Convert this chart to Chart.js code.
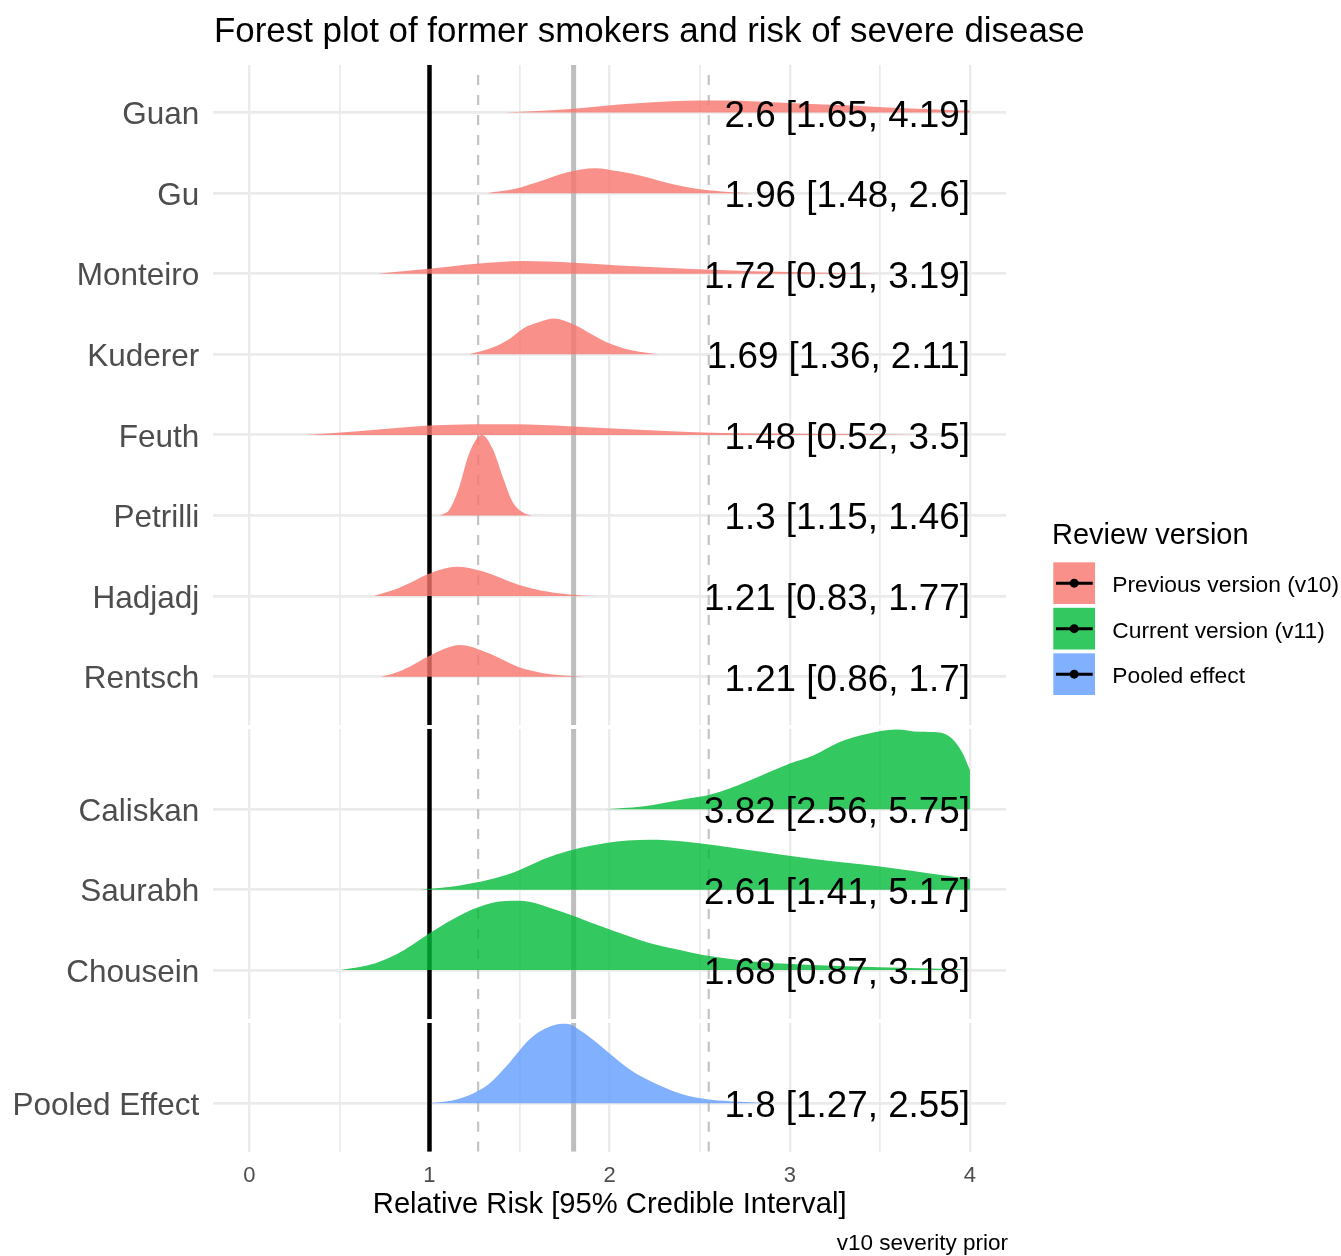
<!DOCTYPE html>
<html>
<head>
<meta charset="utf-8">
<title>Forest plot of former smokers and risk of severe disease</title>
<script src="https://cdn.jsdelivr.net/npm/chart.js@4.4.1/dist/chart.umd.min.js"></script>
<style>
  html, body { margin: 0; padding: 0; background: #fff; width: 1341px; height: 1256px; overflow: hidden; }
  canvas { position: absolute; left: 0; }
</style>
</head>
<body>
<canvas id="panelPrev" width="1341" height="727" style="top:0px"></canvas>
<canvas id="panelCurr" width="1341" height="291" style="top:729px"></canvas>
<canvas id="panelPool" width="1341" height="233" style="top:1023px"></canvas>
<script>
// studies per facet, top to bottom
const prevStudies = ['Guan', 'Gu', 'Monteiro', 'Kuderer', 'Feuth', 'Petrilli', 'Hadjadj', 'Rentsch'];
const prevMean = [2.6, 1.96, 1.72, 1.69, 1.48, 1.3, 1.21, 1.21];
const prevLower = [1.65, 1.48, 0.91, 1.36, 0.52, 1.15, 0.83, 0.86];
const prevUpper = [4.19, 2.6, 3.19, 2.11, 3.5, 1.46, 1.77, 1.7];

const currStudies = ['Caliskan', 'Saurabh', 'Chousein'];
const currMean = [3.82, 2.61, 1.68];
const currLower = [2.56, 1.41, 0.87];
const currUpper = [5.75, 5.17, 3.18];

const poolStudies = ['Pooled Effect'];
const poolMean = [1.8];
const poolLower = [1.27];
const poolUpper = [2.55];

const nullEffect = 1;

// ridge outlines: [relative risk, ridge height in rows]
const guanDens = [[1.42,0],[1.6,0.02],[1.76,0.04],[2.05,0.10],[2.34,0.14],[2.5,0.15],[2.63,0.15],[3.0,0.12],[3.31,0.09],[3.57,0.06],[3.92,0.03],[4.0,0.025]];
const guDens = [[1.32,0],[1.47,0.05],[1.61,0.145],[1.76,0.257],[1.92,0.31],[2.05,0.27],[2.19,0.207],[2.34,0.116],[2.48,0.053],[2.62,0.021],[2.79,0]];
const monteiroDens = [[0.71,0],[0.85,0.03],[1.0,0.062],[1.26,0.124],[1.52,0.158],[1.8,0.137],[2.05,0.103],[2.34,0.071],[2.57,0.05],[2.8,0.031],[3.2,0.012],[3.5,0]];
const kudererDens = [[1.22,0],[1.35,0.083],[1.45,0.2],[1.52,0.32],[1.61,0.40],[1.69,0.443],[1.8,0.37],[1.9,0.25],[1.98,0.153],[2.12,0.05],[2.27,0]];
const feuthDens = [[0.31,0],[0.6,0.046],[1.0,0.116],[1.25,0.133],[1.48,0.133],[1.77,0.108],[2.05,0.075],[2.34,0.046],[2.62,0.025],[3.0,0.015],[3.4,0.007],[3.7,0]];
const petrilliDens = [[1.055,0],[1.08,0.02],[1.11,0.071],[1.16,0.319],[1.22,0.77],[1.29,1.0],[1.35,0.832],[1.41,0.46],[1.46,0.174],[1.52,0.037],[1.57,0]];
const hadjadjDens = [[0.69,0],[0.82,0.091],[0.9,0.17],[0.99,0.27],[1.15,0.364],[1.29,0.31],[1.49,0.145],[1.66,0.053],[1.78,0.02],[1.92,0]];
const rentschDens = [[0.73,0],[0.8,0.04],[0.89,0.124],[0.99,0.248],[1.17,0.394],[1.33,0.29],[1.49,0.124],[1.66,0.034],[1.86,0]];

const caliskanDens = [[1.97,0],[2.18,0.034],[2.39,0.116],[2.57,0.19],[2.76,0.344],[3.0,0.571],[3.13,0.671],[3.28,0.841],[3.42,0.935],[3.59,0.994],[3.72,0.965],[3.83,0.957],[3.9,0.882],[3.96,0.696],[4.0,0.488]];
const saurabhDens = [[0.95,0],[1.16,0.05],[1.43,0.186],[1.7,0.435],[1.98,0.58],[2.22,0.621],[2.41,0.6],[2.76,0.497],[3.13,0.381],[3.5,0.289],[3.87,0.174],[4.0,0.137]];
const chouseinDens = [[0.51,0],[0.7,0.083],[0.86,0.248],[1.0,0.456],[1.19,0.704],[1.35,0.836],[1.5,0.861],[1.68,0.766],[1.96,0.538],[2.23,0.33],[2.39,0.25],[2.51,0.19],[2.6,0.16],[2.85,0.095],[3.13,0.062],[3.5,0.034],[3.95,0.009]];

const pooledDens = [[1.0,0],[1.16,0.053],[1.33,0.24],[1.43,0.468],[1.57,0.82],[1.71,0.978],[1.76,0.985],[1.85,0.882],[1.98,0.655],[2.12,0.406],[2.26,0.24],[2.4,0.116],[2.53,0.053],[2.67,0.025],[2.89,0]];

const xGrid = [0, 0.5, 1, 1.5, 2, 2.5, 3, 3.5, 4];
const legendLabels = ['Previous version (v10)', 'Current version (v11)', 'Pooled effect'];
const versionColors = ['rgba(248,118,109,0.8)', 'rgba(0,186,56,0.8)', 'rgba(97,156,255,0.8)'];

const FONT = '"Liberation Sans", Arial, sans-serif';
Chart.defaults.font.family = FONT;

// right-aligned estimate text on each row
const estimateLabels = {
  id: 'estimateLabels',
  afterDatasetsDraw(chart, args, opts) {
    const ctx = chart.ctx;
    const xs = chart.scales.x, ys = chart.scales.y;
    const n = opts.mean.length;
    ctx.save();
    ctx.font = '36.8px ' + FONT;
    ctx.fillStyle = '#000';
    ctx.textAlign = 'right';
    ctx.textBaseline = 'alphabetic';
    for (let i = 0; i < n; i++) {
      const txt = opts.mean[i] + ' [' + opts.lower[i] + ', ' + opts.upper[i] + ']';
      ctx.fillText(txt, xs.getPixelForValue(4), ys.getPixelForValue(n - i) + 14);
    }
    ctx.restore();
  }
};

// title + legend, drawn on the top panel
const headerAndLegend = {
  id: 'headerAndLegend',
  afterDraw(chart) {
    const ctx = chart.ctx;
    ctx.save();
    ctx.fillStyle = '#000';
    ctx.textAlign = 'left';
    ctx.textBaseline = 'alphabetic';
    ctx.font = '34.9px ' + FONT;
    ctx.fillText('Forest plot of former smokers and risk of severe disease', 214, 42.3);

    ctx.font = '29px ' + FONT;
    ctx.fillText('Review version', 1052, 544);
    legendLabels.forEach((lab, i) => {
      const top = 562.3 + i * 45.5;
      const cy = top + 20.85;
      ctx.fillStyle = versionColors[i];
      ctx.fillRect(1053.3, top, 41.7, 41.7);
      ctx.strokeStyle = '#000';
      ctx.lineWidth = 3;
      ctx.beginPath();
      ctx.moveTo(1056, cy);
      ctx.lineTo(1092.7, cy);
      ctx.stroke();
      ctx.fillStyle = '#000';
      ctx.beginPath();
      ctx.arc(1074.2, cy, 4.5, 0, Math.PI * 2);
      ctx.fill();
      ctx.font = '22.8px ' + FONT;
      ctx.fillText(lab, 1112.3, cy + 9);
    });
    ctx.restore();
  }
};

const captionPlugin = {
  id: 'caption',
  afterDraw(chart) {
    const ctx = chart.ctx;
    ctx.save();
    ctx.fillStyle = '#000';
    ctx.font = '22.5px ' + FONT;
    ctx.textAlign = 'right';
    ctx.textBaseline = 'alphabetic';
    ctx.fillText('v10 severity prior', 1008, 227);
    ctx.restore();
  }
};

function refLine(value, yMin, yMax, color, width, dash) {
  return {
    data: [{x: value, y: yMin}, {x: value, y: yMax}],
    borderColor: color,
    borderWidth: width,
    borderDash: dash,
    pointRadius: 0,
    fill: false,
    order: 2
  };
}

function makePanel(id, cfg) {
  const n = cfg.studies.length;
  const datasets = [
    refLine(nullEffect, cfg.yMin, cfg.yMax, '#000', 4.5, []),
    refLine(poolMean[0], cfg.yMin, cfg.yMax, '#BEBEBE', 5, []),
    refLine(poolLower[0], cfg.yMin, cfg.yMax, '#C4C4C4', 2.2, [10, 10]),
    refLine(poolUpper[0], cfg.yMin, cfg.yMax, '#C4C4C4', 2.2, [10, 10])
  ];
  for (let i = n - 1; i >= 0; i--) {
    const pos = n - i;
    datasets.push({
      label: cfg.studies[i],
      data: cfg.dens[i].map(p => ({x: p[0], y: pos + p[1]})),
      fill: {value: pos},
      backgroundColor: cfg.color,
      borderColor: 'rgba(0,0,0,0)',
      borderWidth: 0,
      pointRadius: 0,
      cubicInterpolationMode: 'monotone',
      order: 1
    });
  }

  return new Chart(document.getElementById(id), {
    type: 'line',
    data: {datasets},
    plugins: cfg.plugins,
    options: {
      responsive: false,
      animation: false,
      events: [],
      layout: {padding: {top: cfg.padTop, right: 335, bottom: cfg.padBottom, left: 0}},
      plugins: {
        legend: {display: false},
        tooltip: {enabled: false},
        estimateLabels: {mean: cfg.mean, lower: cfg.lower, upper: cfg.upper}
      },
      scales: {
        x: {
          type: 'linear',
          min: -0.2,
          max: 4.2,
          afterBuildTicks: s => { s.ticks = xGrid.map(v => ({value: v})); },
          grid: {
            color: '#EBEBEB',
            lineWidth: c => (c.tick && c.tick.value % 1 === 0) ? 2.4 : 1.7,
            drawTicks: false
          },
          border: {display: false},
          ticks: {
            display: cfg.showX,
            autoSkip: false,
            maxRotation: 0,
            padding: 11,
            color: '#4D4D4D',
            font: {size: 22},
            callback: v => (v % 1 === 0 ? String(v) : '')
          },
          title: {
            display: cfg.showX,
            text: 'Relative Risk [95% Credible Interval]',
            color: '#000',
            font: {size: 29.2},
            padding: 0
          },
          afterFit: s => { s.height = cfg.xHeight; s.paddingLeft = 0; s.paddingRight = 0; }
        },
        y: {
          type: 'linear',
          min: cfg.yMin,
          max: cfg.yMax,
          afterBuildTicks: s => { s.ticks = cfg.studies.map((_, i) => ({value: i + 1})); },
          grid: {color: '#EBEBEB', lineWidth: 2.8, drawTicks: false},
          border: {display: false},
          ticks: {
            autoSkip: false,
            padding: 14,
            labelOffset: 3,
            color: '#4D4D4D',
            font: {size: 31.5},
            callback: v => cfg.studies[n - v]
          },
          afterFit: s => { s.width = 213.3; s.paddingTop = 0; s.paddingBottom = 0; }
        }
      }
    }
  });
}

makePanel('panelPrev', {
  studies: prevStudies, mean: prevMean, lower: prevLower, upper: prevUpper,
  dens: [guanDens, guDens, monteiroDens, kudererDens, feuthDens, petrilliDens, hadjadjDens, rentschDens],
  color: versionColors[0],
  yMin: 0.4, yMax: 8.59,
  padTop: 65, padBottom: 2, xHeight: 0, showX: false,
  plugins: [estimateLabels, headerAndLegend]
});

makePanel('panelCurr', {
  studies: currStudies, mean: currMean, lower: currLower, upper: currUpper,
  dens: [caliskanDens, saurabhDens, chouseinDens],
  color: versionColors[1],
  yMin: 0.39, yMax: 4.0,
  padTop: 0, padBottom: 1, xHeight: 0, showX: false,
  plugins: [estimateLabels]
});

makePanel('panelPool', {
  studies: poolStudies, mean: poolMean, lower: poolLower, upper: poolUpper,
  dens: [pooledDens],
  color: versionColors[2],
  yMin: 0.4, yMax: 1.995,
  padTop: 0, padBottom: 33.6, xHeight: 70.7, showX: true,
  plugins: [estimateLabels, captionPlugin]
});
</script>
</body>
</html>
